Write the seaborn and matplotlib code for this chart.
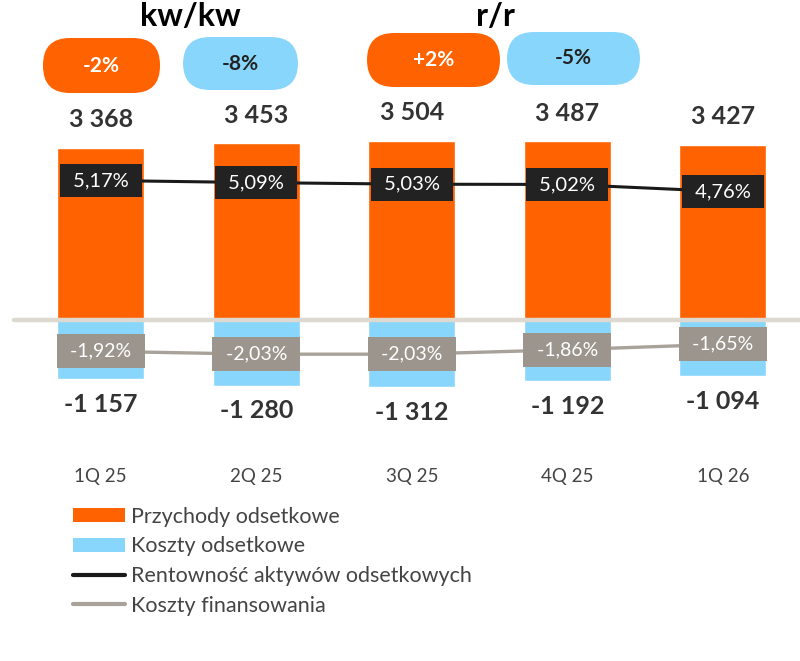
import numpy as np
import pandas as pd
import matplotlib
matplotlib.use("Agg")
import matplotlib.pyplot as plt
import seaborn as sns
from matplotlib.patches import FancyBboxPatch, Patch
from matplotlib.lines import Line2D

# ---- data ----
quarters = ["1Q 25", "2Q 25", "3Q 25", "4Q 25", "1Q 26"]
revenue = [3368, 3453, 3504, 3487, 3427]
costs = [-1157, -1280, -1312, -1192, -1094]
yield_assets = [5.17, 5.09, 5.03, 5.02, 4.76]
funding_cost = [-1.92, -2.03, -2.03, -1.86, -1.65]
pill_titles = ["kw/kw", "r/r"]
pill_values = ["-2%", "-8%", "+2%", "-5%"]
legend_labels = ["Przychody odsetkowe", "Koszty odsetkowe",
                 "Rentowność aktywów odsetkowych", "Koszty finansowania"]

ORANGE = "#FF6200"
BLUE = "#89D6FD"
BLACK = "#1a1a1a"
GRAY_LINE = "#A8A29A"
GRAY_BOX = "#9C958E"
TXT = "#333333"

sns.set_theme(style="white")
plt.rcParams["font.family"] = ["Lato", "DejaVu Sans"]

W, H = 800, 661
fig = plt.figure(figsize=(W / 100, H / 100), dpi=100)

def fr(x0, y0, x1, y1):
    return [x0 / W, 1 - y1 / H, (x1 - x0) / W, (y1 - y0) / H]

ax = fig.add_axes(fr(23, 100, 800.5, 440))
df = pd.DataFrame({"q": quarters, "rev": revenue, "cost": costs})
sns.barplot(data=df, x="q", y="rev", color=ORANGE, width=0.56, ax=ax,
            saturation=1, zorder=2)
sns.barplot(data=df, x="q", y="cost", color=BLUE, width=0.56, ax=ax,
            saturation=1, zorder=2)
ax.set_xlim(-0.5, 4.5)
ax.set_ylim(-(440 - 320) / 0.0512, (320 - 100) / 0.0512)
ax.set_xlabel("")
ax.set_ylabel("")
ax.set_yticks([])
for s in ax.spines.values():
    s.set_visible(False)
ax.tick_params(axis="x", length=0, pad=20, labelsize=13.5, labelcolor="#444444")
ax.axhline(0, xmin=-0.012, xmax=1, color="#DDD8D0", lw=3.2, zorder=3, clip_on=False)

for i, v in enumerate(revenue):
    ax.annotate(f"{v:,}".replace(",", " "), (i, v), xytext=(0, 20),
                textcoords="offset points", ha="center", va="center",
                fontsize=18, fontweight="bold", color=TXT)
for i, v in enumerate(costs):
    s = f"{abs(v):,}".replace(",", " ")
    ax.annotate("-" + s, (i, v), xytext=(0, -18),
                textcoords="offset points", ha="center", va="center",
                fontsize=18, fontweight="bold", color=TXT)

xpos = np.arange(len(quarters))
# black line axis
ax2 = ax.twinx()
ax2.set_ylim(-(440 - 319) / 26.8, (319 - 100) / 26.8)
sns.lineplot(x=xpos, y=yield_assets, color=BLACK, lw=2.2, ax=ax2, zorder=4)
ax2.axis("off")
for i, v in enumerate(yield_assets):
    ax2.text(i, v, " " + f"{v:.2f}%".replace(".", ",") + " ", ha="center",
             va="center", fontsize=14.5, color="white", zorder=5,
             bbox=dict(boxstyle="square,pad=0.4", fc="#222222", ec="none"))

ax3 = ax.twinx()
ax3.set_ylim(-(440 - 301) / 26.2, (301 - 100) / 26.2)
sns.lineplot(x=xpos, y=funding_cost, color=GRAY_LINE, lw=2.4, ax=ax3, zorder=4)
ax3.axis("off")
for i, v in enumerate(funding_cost):
    ax3.text(i, v, " " + f"{v:.2f}%".replace(".", ",") + " ", ha="center",
             va="center", fontsize=14, color="white", zorder=5,
             bbox=dict(boxstyle="square,pad=0.44", fc=GRAY_BOX, ec="none"))

# overlay for pills and titles
ov = fig.add_axes([0, 0, 1, 1], zorder=10)
ov.set_xlim(0, W)
ov.set_ylim(H, 0)
ov.axis("off")
ov.patch.set_alpha(0)

pills = [(43, 38, 160, 93, ORANGE, "white"),
         (183, 37, 298, 90, BLUE, "#222222"),
         (367, 33, 500, 87, ORANGE, "white"),
         (507, 32, 640, 85, BLUE, "#222222")]
for (x0, y0, x1, y1, fc, tc), lab in zip(pills, pill_values):
    ov.add_patch(FancyBboxPatch((x0, y0), x1 - x0, y1 - y0,
                                boxstyle="round,pad=0,rounding_size=27",
                                fc=fc, ec="none"))
    ov.text((x0 + x1) / 2, (y0 + y1) / 2, lab, ha="center", va="center",
            fontsize=15, fontweight="bold", color=tc)
ov.text(190, 17, pill_titles[0], ha="center", va="center", fontsize=23,
        fontweight="bold", color="black")
ov.text(495, 17, pill_titles[1], ha="center", va="center", fontsize=23,
        fontweight="bold", color="black")

handles = [Patch(fc=ORANGE, ec="none"), Patch(fc=BLUE, ec="none"),
           Line2D([], [], color=BLACK, lw=3), Line2D([], [], color=GRAY_LINE, lw=3)]
fig.legend(handles, legend_labels, loc="upper left",
           bbox_to_anchor=(64 / W, 1 - 498 / H), frameon=False, fontsize=15.5,
           handlelength=2.45, handleheight=0.6, handletextpad=0.25,
           labelspacing=0.45, labelcolor="#444444", borderaxespad=0)

fig.savefig("out.png", dpi=100, facecolor="white")
